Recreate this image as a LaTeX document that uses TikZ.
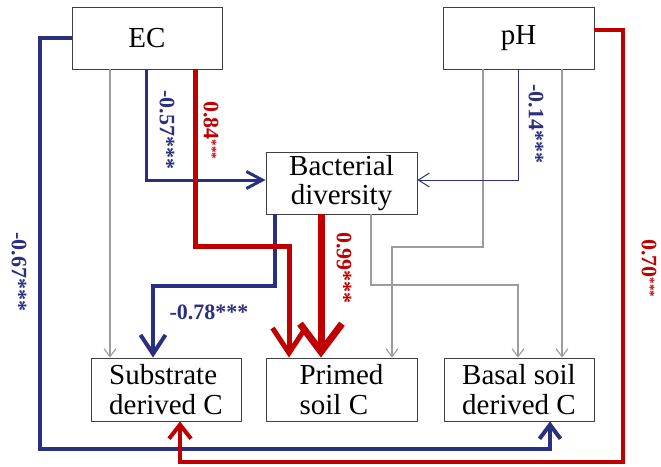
\documentclass[tikz,border=0pt]{standalone}
\usepackage{fontspec}
\setmainfont{Liberation Serif}
\usetikzlibrary{arrows.meta}
\definecolor{navy}{HTML}{2B2F7F}
\definecolor{dred}{HTML}{C00000}
\definecolor{lgray}{HTML}{9C9C9C}
\begin{document}
\begin{tikzpicture}[x=1pt,y=-1pt,
  box/.style={draw=black!75, line width=0.9pt, fill=white, minimum width=150pt,
    minimum height=62pt, inner sep=0pt, font=\fontsize{29}{29.5}\selectfont},
  gline/.style={draw=lgray, line width=1.1pt, -{Straight Barb[length=8pt,width=12pt]}},
  lbl/.style={font=\fontsize{22}{24}\selectfont\bfseries, inner sep=0pt},
  bl/.style={lbl, text=navy},
  rl/.style={lbl, text=dred}
]
\useasboundingbox (0,0) rectangle (661,466);
% boxes
\node[box] (EC) at (147,38) {EC};
\node[box, minimum width=151pt] (pH) at (518.5,38) {pH};
\node[box, minimum width=151pt, align=center] (Bact) at (341.5,183) {Bacterial\\diversity};
\node[box, minimum height=63pt, align=left] (Sub) at (166,389.5) {Substrate\\derived C};
\node[box, minimum width=151pt, minimum height=63pt, align=left] (Prim) at (341.5,389.5) {Primed\\soil C};
\node[box, minimum height=63pt, align=center] (Bas) at (519,389.5) {Basal soil\\derived C};
% helper coordinates
\coordinate (ec1) at ([xshift=-37pt]EC.south);
\coordinate (ec2) at ([xshift=-1pt]EC.south);
\coordinate (ec3) at ([xshift=48pt]EC.south);
\coordinate (ph1) at ([xshift=-35.5pt]pH.south);
\coordinate (ph3) at ([xshift=43.5pt]pH.south);
\coordinate (b1) at ([xshift=-66.5pt]Bact.south);
\coordinate (b2) at ([xshift=-20.5pt]Bact.south);
\coordinate (b3) at ([xshift=29.5pt]Bact.south);
% gray connectors
\draw[gline] (ec1) -- (ec1 |- Sub.north);
\draw[gline] (ph1) -- (ph1 |- 0,247) -| ([xshift=50.5pt]Prim.north);
\draw[gline] (ph3) -- (ph3 |- Bas.north);
\draw[gline] (b3) -- (b3 |- 0,285) -| ([xshift=-1pt]Bas.north);
% blue connectors
\draw[navy, line width=1pt, -{Straight Barb[length=11pt,width=14pt]}] (pH.south) |- ([yshift=3pt]Bact.east);
\draw[navy, line width=3pt, -{Straight Barb[length=16pt,width=17pt]}] (ec2) |- ([yshift=3pt]Bact.west);
\draw[navy, line width=4pt, -{Straight Barb[length=19pt,width=25pt]}] (b1) -- (b1 |- 0,286) -| ([xshift=-13pt]Sub.north);
\draw[navy, line width=4pt, -{Straight Barb[length=14pt,width=21pt]}] (EC.west) -| (40,449) -| ([xshift=31pt]Bas.south);
% red connectors
\draw[dred, line width=5pt, -{Straight Barb[length=25pt,width=33pt]}] (ec3) -- (ec3 |- 0,246) -| ([xshift=-52.5pt]Prim.north);
\draw[dred, line width=7pt, -{Straight Barb[length=28pt,width=42pt]}] (b2) -- (b2 |- Prim.north);
\draw[dred, line width=4pt, -{Straight Barb[length=14pt,width=22pt]}] ([yshift=8pt]pH.east) -| (623,462) -| ([xshift=14pt]Sub.south);
% labels
\node[bl, rotate=-90] (l57) at (167,130) {-0.57***};
\node[rl, rotate=-90] (l84) at (211,130) {0.84\raisebox{4pt}{\fontsize{13}{13}\selectfont ***}};
\node[bl, rotate=-90] (l14) at (536,124) {-0.14***};
\node[rl, rotate=-90] (l99) at (344,268) {0.99***};
\node[rl, rotate=-90] (l70) at (649,268) {0.70\raisebox{4pt}{\fontsize{13}{13}\selectfont ***}};
\node[bl, rotate=-90] (l67) at (19,272) {-0.67***};
\node[bl] (l78) at (209,312) {-0.78***};
\end{tikzpicture}
\end{document}
